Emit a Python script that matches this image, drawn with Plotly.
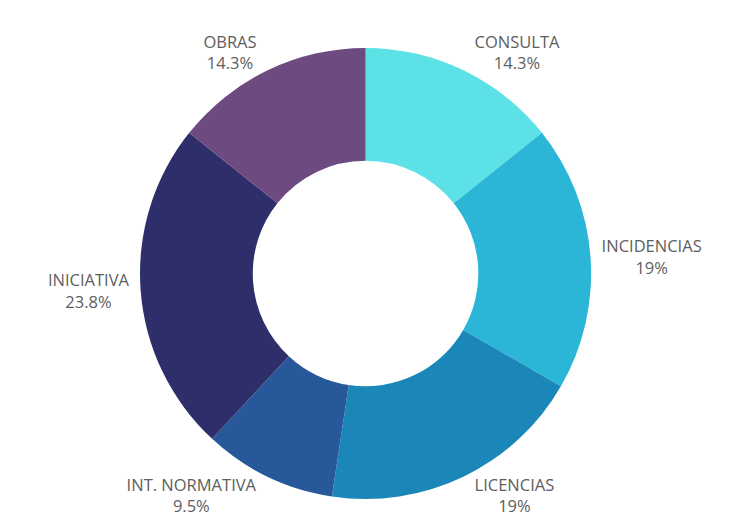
import plotly.graph_objects as go

labels = ["CONSULTA", "INCIDENCIAS", "LICENCIAS", "INT. NORMATIVA", "INICIATIVA", "OBRAS"]
values = [3, 4, 4, 2, 5, 3]
colors = ["#5ce1e6", "#2bb5d6", "#1a87b8", "#27589a", "#2e2e6b", "#6d4a80"]

total = sum(values)
pct_text = [f"{round(100 * v / total, 1):g}%" for v in values]

fig = go.Figure(go.Pie(
    labels=labels,
    values=values,
    text=pct_text,
    texttemplate="%{label}<br>%{text}",
    textposition="outside",
    hole=0.5,
    sort=False,
    direction="clockwise",
    rotation=0,
    marker=dict(colors=colors, line=dict(width=0)),
    textfont=dict(family="Open Sans", size=16.5, color="#5e5e5e"),
    showlegend=False,
    domain=dict(x=[0, 0.966], y=[0, 1]),
))

fig.update_layout(
    width=734, height=531,
    margin=dict(l=0, r=0, t=0, b=0),
    paper_bgcolor="white",
    plot_bgcolor="white",
)

fig.write_html("out.html")
